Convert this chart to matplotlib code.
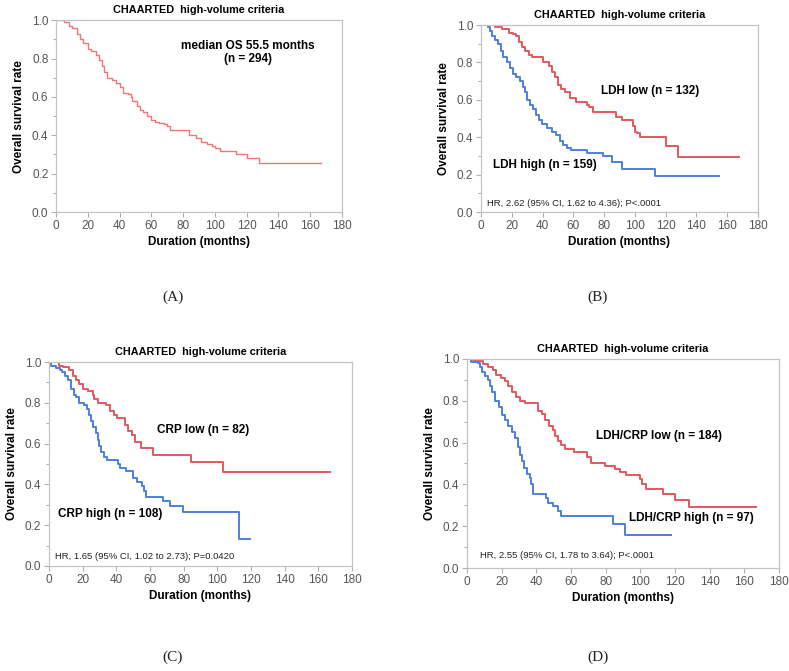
import matplotlib
matplotlib.use('Agg')
import matplotlib.pyplot as plt
from matplotlib.ticker import MultipleLocator

# ── Kaplan-Meier curves (time in months, survival rate) ──
# (A) all patients
a_t = [0, 5, 8, 10, 13, 15, 17, 20, 22, 25, 27, 29, 30, 32, 35, 38, 40, 42, 45, 47, 48,
       51, 53, 55, 57, 60, 62, 65, 68, 70, 72, 80, 84, 88, 91, 95, 98, 100, 103, 105,
       113, 120, 128, 167]
a_s = [1.0, 0.99, 0.97, 0.96, 0.93, 0.90, 0.88, 0.85, 0.84, 0.82, 0.79, 0.76, 0.73, 0.70,
       0.69, 0.67, 0.65, 0.62, 0.615, 0.60, 0.58, 0.555, 0.53, 0.52, 0.50, 0.48, 0.47,
       0.465, 0.46, 0.45, 0.43, 0.425, 0.40, 0.385, 0.367, 0.355, 0.345, 0.335, 0.32,
       0.32, 0.30, 0.28, 0.255, 0.255]

# (B) LDH
b_low_t = [0, 9, 13.5, 18, 21, 23, 25, 26.5, 28.6, 31, 33, 40.5, 44, 46, 48, 50, 52,
           54.7, 58, 62, 69, 70.5, 72.5, 88, 91.5, 98.5, 100, 101.7, 103.5, 120, 128, 167.5]
b_low_s = [1.0, 0.99, 0.98, 0.96, 0.95, 0.94, 0.91, 0.88, 0.86, 0.84, 0.83, 0.80, 0.78,
           0.75, 0.72, 0.68, 0.66, 0.64, 0.61, 0.59, 0.57, 0.56, 0.535, 0.51, 0.49, 0.46,
           0.43, 0.42, 0.40, 0.355, 0.295, 0.295]
b_high_t = [0, 4.3, 6, 7.4, 9, 11, 13, 14.5, 16.7, 19, 21, 23, 25.4, 27, 28.6, 30, 32, 34,
            36, 37.7, 39.5, 42.7, 46, 49, 51.4, 53.6, 55.7, 58.6, 68.8, 79.6, 85, 91.5,
            113, 154.5]
b_high_s = [1.0, 0.99, 0.97, 0.94, 0.92, 0.90, 0.86, 0.83, 0.80, 0.77, 0.74, 0.72, 0.70,
            0.67, 0.64, 0.60, 0.57, 0.55, 0.52, 0.49, 0.47, 0.45, 0.43, 0.41, 0.38, 0.36,
            0.345, 0.33, 0.315, 0.30, 0.265, 0.23, 0.195, 0.195]

# (C) CRP
c_low_t = [0, 6, 8.3, 12, 14, 16, 18, 20, 23, 26, 27, 29, 34, 36, 38.6, 40.6, 45, 47,
           49.5, 51, 54.5, 62, 84.6, 103.4, 166.7]
c_low_s = [1.0, 0.98, 0.975, 0.96, 0.93, 0.91, 0.89, 0.87, 0.86, 0.84, 0.82, 0.80, 0.79,
           0.76, 0.74, 0.725, 0.69, 0.66, 0.64, 0.61, 0.58, 0.545, 0.51, 0.46, 0.46]
c_high_t = [0, 1.4, 4.4, 6.3, 8, 9.5, 11.3, 13.3, 14.7, 16, 18, 20.6, 22.6, 24, 25, 26,
            27.7, 29, 30, 31, 32.5, 34.5, 41, 42.4, 46, 50, 52, 55, 56.4, 57.8, 67.7,
            71.7, 79.6, 112.9, 119.2]
c_high_s = [1.0, 0.98, 0.97, 0.96, 0.95, 0.93, 0.91, 0.87, 0.84, 0.83, 0.80, 0.79, 0.77,
            0.74, 0.71, 0.68, 0.65, 0.62, 0.59, 0.56, 0.535, 0.52, 0.50, 0.48, 0.465,
            0.43, 0.41, 0.39, 0.37, 0.34, 0.32, 0.295, 0.265, 0.13, 0.13]

# (D) LDH/CRP
d_low_t = [0, 3.6, 6.5, 9.4, 12.3, 14.8, 17, 19.6, 21.9, 23.8, 25.7, 28, 30.5, 33.4,
           40.7, 43, 45, 47.2, 49.7, 51, 52.6, 54.5, 56.8, 62, 69, 71.8, 79.5, 85.2, 88,
           92, 99.6, 101, 103.5, 113, 119.8, 127.8, 166.8]
d_low_s = [1.0, 0.995, 0.99, 0.975, 0.96, 0.945, 0.925, 0.91, 0.895, 0.87, 0.84, 0.82,
           0.80, 0.79, 0.75, 0.735, 0.71, 0.68, 0.66, 0.63, 0.61, 0.59, 0.57, 0.555,
           0.53, 0.50, 0.49, 0.475, 0.46, 0.445, 0.425, 0.40, 0.38, 0.355, 0.325, 0.29,
           0.29]
d_high_t = [0, 2.3, 6.5, 7.5, 8.8, 10.4, 12, 13.2, 14.6, 16, 18.4, 20, 21.9, 23.8, 26,
            27.6, 29.2, 30.3, 31.5, 33, 34.7, 36.3, 37.2, 38.2, 45.3, 46.5, 49.7, 52.6,
            54.5, 84.3, 91, 117.8]
d_high_s = [1.0, 0.985, 0.98, 0.96, 0.94, 0.92, 0.90, 0.87, 0.84, 0.80, 0.77, 0.73,
            0.71, 0.68, 0.65, 0.62, 0.58, 0.54, 0.51, 0.48, 0.45, 0.43, 0.40, 0.355,
            0.335, 0.31, 0.295, 0.275, 0.25, 0.21, 0.16, 0.16]

TITLE = 'CHAARTED  high-volume criteria'
RED = '#e3585e'; RED_A = '#f27676'; BLUE = '#4d7fdc'
FONT = 'Liberation Sans'

plt.rcParams['font.family'] = FONT

fig = plt.figure(figsize=(7.89, 6.71), dpi=100)


def style(ax):
    ax.set_xlim(0, 180); ax.set_ylim(0, 1.0)
    ax.xaxis.set_major_locator(MultipleLocator(20))
    ax.yaxis.set_major_locator(MultipleLocator(0.2))
    ax.yaxis.set_minor_locator(MultipleLocator(0.1))
    ax.yaxis.set_major_formatter(plt.FuncFormatter(lambda v, p: f'{v:.1f}'))
    for s in ax.spines.values():
        s.set_color('#c4c4c4'); s.set_linewidth(0.9)
    ax.tick_params(which='both', direction='out', color='#b0b0b0', labelcolor='#555555',
                   labelsize=8.5, width=0.8)
    ax.tick_params(which='major', length=3.5, pad=2)
    ax.tick_params(which='minor', length=2)
    ax.set_title(TITLE, fontsize=7.8, fontweight='bold', pad=5)
    ax.set_xlabel('Duration (months)', fontsize=8.5, fontweight='bold', labelpad=3)
    ax.set_ylabel('Overall survival rate', fontsize=8.5, fontweight='bold', labelpad=5)


def hr(ax, x, y, s):
    ax.text(x, y, s, ha='left', va='center', fontsize=6.8, color='#222222')


# ── (A) ──
ax = fig.add_axes([0.071, 0.684, 0.3625, 0.286])
ax.step(a_t, a_s, where='post', color=RED_A, lw=1.0)
ax.text(121, 0.83, 'median OS 55.5 months\n(n = 294)', ha='center', va='center',
        fontsize=8.5, fontweight='bold', linespacing=1.1)
style(ax)

# ── (B) ──
ax = fig.add_axes([0.6096, 0.684, 0.351, 0.2787])
ax.step(b_low_t, b_low_s, where='post', color=RED, lw=1.4)
ax.step(b_high_t, b_high_s, where='post', color=BLUE, lw=1.4)
ax.text(110, 0.648, 'LDH low (n = 132)', ha='center', va='center', fontsize=8.5, fontweight='bold')
ax.text(41.6, 0.249, 'LDH high (n = 159)', ha='center', va='center', fontsize=8.5, fontweight='bold')
hr(ax, 3.7, 0.048, 'HR, 2.62 (95% CI, 1.62 to 4.36); P<.0001')
style(ax)

# ── (C) ──
ax = fig.add_axes([0.0621, 0.1565, 0.384, 0.304])
ax.step(c_low_t, c_low_s, where='post', color=RED, lw=1.4)
ax.step(c_high_t, c_high_s, where='post', color=BLUE, lw=1.4)
ax.text(91.7, 0.665, 'CRP low (n = 82)', ha='center', va='center', fontsize=8.5, fontweight='bold')
ax.text(36.5, 0.257, 'CRP high (n = 108)', ha='center', va='center', fontsize=8.5, fontweight='bold')
hr(ax, 3.4, 0.047, 'HR, 1.65 (95% CI, 1.02 to 2.73); P=0.0420')
style(ax)

# ── (D) ──
ax = fig.add_axes([0.5919, 0.1535, 0.3954, 0.3115])
ax.step(d_low_t, d_low_s, where='post', color=RED, lw=1.4)
ax.step(d_high_t, d_high_s, where='post', color=BLUE, lw=1.4)
ax.text(110.6, 0.632, 'LDH/CRP low (n = 184)', ha='center', va='center', fontsize=8.5, fontweight='bold')
ax.text(129.6, 0.237, 'LDH/CRP high (n = 97)', ha='center', va='center', fontsize=8.5, fontweight='bold')
hr(ax, 7.5, 0.059, 'HR, 2.55 (95% CI, 1.78 to 3.64); P<.0001')
style(ax)

# ── Panel letters ──
for x, y, lab in [(173, 297, '(A)'), (598, 297, '(B)'), (173, 657, '(C)'), (598, 657, '(D)')]:
    fig.text(x / 789, 1 - y / 671, lab, ha='center', va='center', fontsize=11,
             family='Liberation Serif', color='#222222')

fig.savefig('out.png', dpi=100)
